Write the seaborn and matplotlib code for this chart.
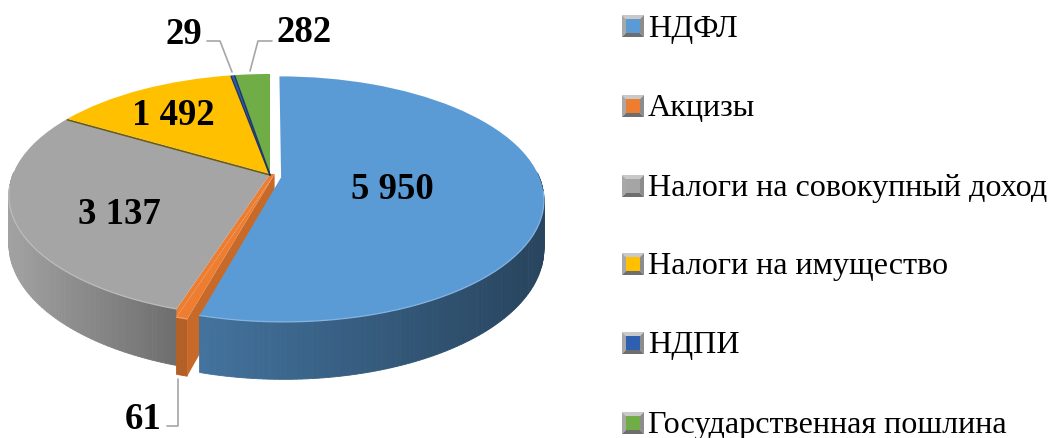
import numpy as np
import matplotlib
matplotlib.use("Agg")
import matplotlib.pyplot as plt
from matplotlib.transforms import Transform
import seaborn as sns

categories = ["НДФЛ", "Акцизы", "Налоги на совокупный доход",
              "Налоги на имущество", "НДПИ", "Государственная пошлина"]
values = [5950, 61, 3137, 1492, 29, 282]
value_labels = ["5 950", "61", "3 137", "1 492", "29", "282"]
colors = ["#5B9BD5", "#ED7D31", "#A5A5A5", "#FFC000", "#2F5FB0", "#70AD47"]
explode = [0.04, 0.0, 0.0, 0.0, 0.0, 0.0]

# pie centre, radii, perspective and thickness in pixels
CX, CY = 270, 175
RX, RY = 257, 117.7
P = 0.177
DEPTH = 47


def project(u, v, z=0.0):
    s = 1 / (1 + P * v)
    return CX + RX * u * s, CY - RY * v * s + DEPTH * z * s


class Perspective(Transform):
    input_dims = 2
    output_dims = 2
    is_affine = False
    has_inverse = False

    def transform_non_affine(self, values):
        values = np.asarray(values)
        x, y = project(values[:, 0], values[:, 1])
        return np.column_stack([x, y])


def shade(rgb, x):
    # side walls get darker from left to right
    f = np.interp(x, [10, 180, 200, 540], [0.98, 0.66, 0.74, 0.44])
    return tuple(np.clip(np.array(rgb) * f, 0, 1))


sns.set_theme(style="white")
plt.rcParams["font.family"] = ["Liberation Serif", "DejaVu Serif"]

fig, ax = plt.subplots(figsize=(10.51, 4.39), dpi=100)
fig.subplots_adjust(0, 0, 1, 1)
palette = sns.color_palette(colors)

wedges, _ = ax.pie(values, colors=palette, startangle=90, counterclock=False,
                   explode=explode, wedgeprops={"linewidth": 0})
ax.set_aspect("auto")
ax.set_xlim(0, 1051)
ax.set_ylim(439, 0)
ax.axis("off")

# blue sits a little lower, orange sticks out past the rim
wedges[0].set_center((0.043, -0.028))
wedges[1].set_center((0.018, 0.0))
wedges[1].set_radius(1.05)
persp = Perspective() + ax.transData

# side walls, back to front
for i in [2, 3, 4, 5, 1, 0]:
    w = wedges[i]
    rgb = palette[i]
    c0, c1 = w.center
    ang = np.radians(np.linspace(w.theta1, w.theta2, int(w.theta2 - w.theta1) + 2))
    u = c0 + w.r * np.cos(ang)
    v = c1 + w.r * np.sin(ang)
    for j in range(len(ang) - 1):
        if v[j] > 0 and v[j + 1] > 0:
            continue
        x0, y0 = project(u[j], v[j])
        x1, y1 = project(u[j + 1], v[j + 1])
        x2, y2 = project(u[j + 1], v[j + 1], 1)
        x3, y3 = project(u[j], v[j], 1)
        col = tuple(np.array(rgb) * 0.76) if i == 1 else shade(rgb, (x0 + x1) / 2)
        ax.fill([x0, x1, x2, x3], [y0, y1, y2, y3], color=col, lw=0.6, zorder=2)
    if i == 1:
        # cut face of the orange slice towards the blue one
        k = np.argmax(ang)
        xa, ya = project(u[k], v[k])
        xb, yb = project(u[k], v[k], 1)
        xc, yc = project(c0, c1, 1)
        xd, yd = project(c0, c1)
        ax.fill([xa, xb, xc, xd], [ya, yb, yc, yd], color=tuple(np.array(rgb) * 0.84),
                lw=0, zorder=2)
        # orange fills up to the grey edge, no white sliver
        k = np.argmin(ang)
        xe, ye = project(np.array([0, np.cos(ang[k]), u[k], c0]),
                         np.array([0, np.sin(ang[k]), v[k], c1]))
        ax.fill(xe, ye, color=rgb, lw=0, zorder=2.9)

# top surface
for w in wedges:
    w.set_transform(persp)
    w.set_clip_on(False)
    w.set_zorder(3)

# rim highlight on the front edge
for i, w in enumerate(wedges):
    c0, c1 = w.center
    ang = np.radians(np.linspace(w.theta1, w.theta2, 80))
    u = c0 + w.r * np.cos(ang)
    v = c1 + w.r * np.sin(ang)
    x, y = project(u, v)
    keep = v < -0.1
    light = tuple(np.clip(np.array(palette[i]) * 0.75 + 0.25, 0, 1))
    ax.plot(x[keep], y[keep], color=light, lw=0.9, zorder=3.5)

# dark seams on the cut faces
for i, ang_deg in [(3, None), (4, None), (4, "end")]:
    w = wedges[i]
    a = np.radians(w.theta2 if ang_deg is None else w.theta1)
    xs, ys = project(np.array([0, np.cos(a)]), np.array([0, np.sin(a)]))
    ax.plot(xs, ys + 1, color="#6B5A10" if i == 3 else "#1F3864", lw=1.1, zorder=3.2)

# value labels
label_pos = [(392, 190), (143, 420), (119, 215), (173, 116), (184, 35), (304, 33)]
for txt, (lx, ly) in zip(value_labels, label_pos):
    ax.text(lx, ly, txt, fontsize=26.5, fontweight="bold", color="black",
            ha="center", va="center", zorder=6)

# leader lines
for xs, ys in [([207, 220, 232], [42, 42, 73]),
               ([272, 258, 250], [42, 42, 72]),
               ([167, 178, 178], [427, 427, 380])]:
    ax.plot(xs, ys, color="#A6A6A6", lw=1.2, zorder=5)

# legend with bevelled keys
legend_y = [27, 107, 187, 265, 344, 424]
kx, half, inner = 633, 11, 7
for name, col, ly in zip(categories, palette, legend_y):
    ax.fill([kx - half, kx + half, kx + inner, kx - inner],
            [ly - half, ly - half, ly - inner, ly - inner], color="#C9C9C9", lw=0)
    ax.fill([kx - half, kx - inner, kx - inner, kx - half],
            [ly - half, ly - inner, ly + inner, ly + half], color="#A8A8A8", lw=0)
    ax.fill([kx + half, kx + inner, kx + inner, kx + half],
            [ly - half, ly - inner, ly + inner, ly + half], color="#8C8C8C", lw=0)
    ax.fill([kx - half, kx + half, kx + inner, kx - inner],
            [ly + half, ly + half, ly + inner, ly + inner], color="#6E6E6E", lw=0)
    ax.fill([kx - inner, kx + inner, kx + inner, kx - inner],
            [ly - inner, ly - inner, ly + inner, ly + inner], color=col, lw=0)
    ax.text(648, ly + 2, name, fontsize=23.1, color="black", ha="left", va="center")

fig.savefig("out.png", dpi=100)
